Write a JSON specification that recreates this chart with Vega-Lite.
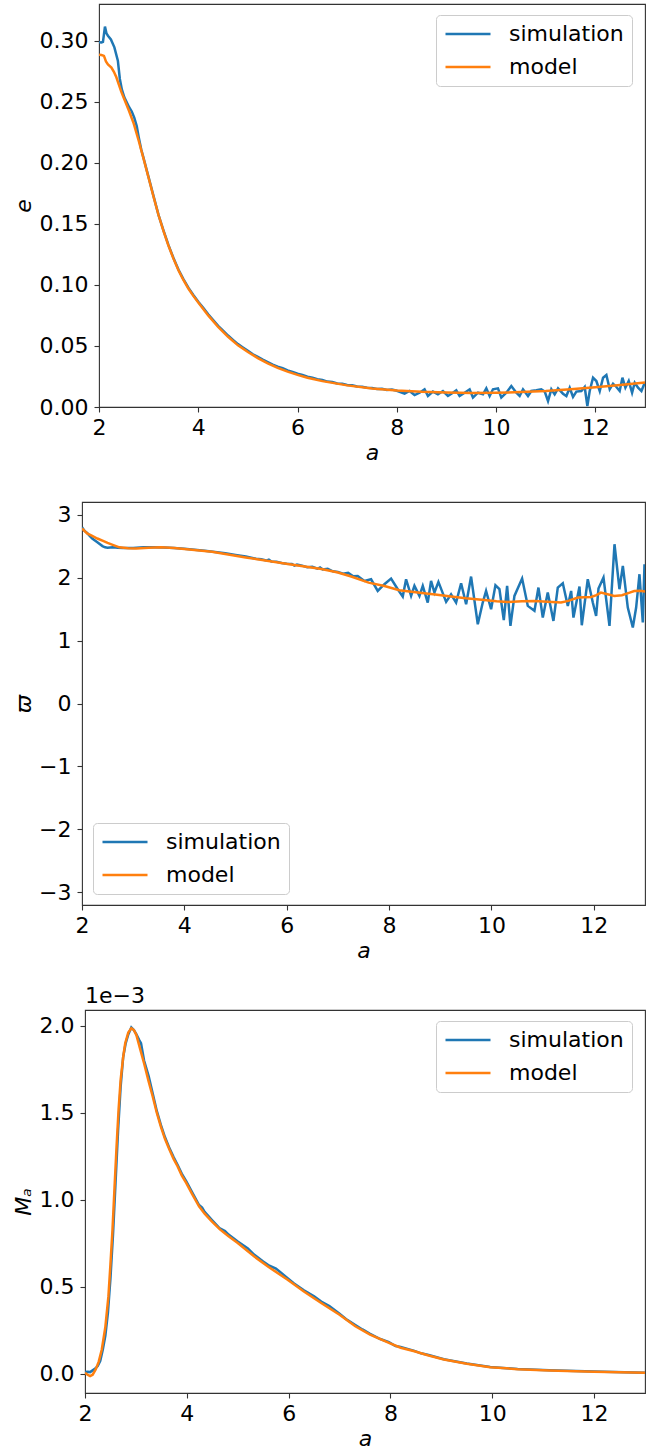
{
"$schema": "https://vega.github.io/schema/vega-lite/v6.json",
"padding": {"left": 0, "top": 3, "right": 0, "bottom": 0},
"background": "white",
"config": {
 "font": "DejaVu Sans",
 "view": {"stroke": "#333333", "strokeWidth": 1.1},
 "axis": {"grid": false, "domain": false, "tickSize": 5, "tickColor": "#333333", "tickWidth": 1.1, "labelFontSize": 22, "labelColor": "#000000", "titleFontSize": 22, "titleFontWeight": "normal", "titleFontStyle": "italic", "titleColor": "#000000", "labelFlush": false, "labelFont": "DejaVu Sans", "titleFont": "DejaVu Sans"},
 "axisX": {"labelPadding": 5, "titlePadding": 4},
 "axisY": {"labelPadding": 6, "titlePadding": 9, "titleAngle": 270, "titleBaseline": "alphabetic"},
 "legend": {"orient": "none", "symbolType": "stroke", "symbolSize": 2025, "symbolStrokeWidth": 2.5, "labelFontSize": 22, "labelFont": "DejaVu Sans", "labelColor": "#000000", "labelOffset": 17, "clipHeight": 22, "rowPadding": 11, "padding": 8, "fillColor": "rgba(255,255,255,0.8)", "strokeColor": "#cccccc", "cornerRadius": 4},
 "line": {"strokeWidth": 2.5}
},
"spacing": 22,
"resolve": {"scale": {"x": "independent", "y": "independent", "color": "independent"}, "legend": {"color": "independent"}},
"datasets": {
 "gap": [{"t": ""}],
 "ecc": [
  {"s":"simulation","a":2.00,"v":0.2986},{"s":"simulation","a":2.05,"v":0.2985},{"s":"simulation","a":2.08,"v":0.2990},{"s":"simulation","a":2.12,"v":0.3115},{"s":"simulation","a":2.15,"v":0.3060},{"s":"simulation","a":2.18,"v":0.3040},{"s":"simulation","a":2.24,"v":0.3010},{"s":"simulation","a":2.31,"v":0.2945},{"s":"simulation","a":2.38,"v":0.2836},{"s":"simulation","a":2.42,"v":0.2686},{"s":"simulation","a":2.46,"v":0.2600},{"s":"simulation","a":2.51,"v":0.2535},{"s":"simulation","a":2.61,"v":0.2453},{"s":"simulation","a":2.66,"v":0.2420},{"s":"simulation","a":2.71,"v":0.2370},{"s":"simulation","a":2.76,"v":0.2300},{"s":"simulation","a":2.80,"v":0.2210},{"s":"simulation","a":2.85,"v":0.2110},{"s":"simulation","a":2.90,"v":0.2035},{"s":"simulation","a":3.00,"v":0.1880},{"s":"simulation","a":3.10,"v":0.1725},{"s":"simulation","a":3.20,"v":0.1572},{"s":"simulation","a":3.30,"v":0.1445},{"s":"simulation","a":3.40,"v":0.1325},{"s":"simulation","a":3.50,"v":0.1220},{"s":"simulation","a":3.60,"v":0.1126},{"s":"simulation","a":3.70,"v":0.1047},{"s":"simulation","a":3.80,"v":0.0977},{"s":"simulation","a":3.90,"v":0.0917},{"s":"simulation","a":4.00,"v":0.0862},{"s":"simulation","a":4.10,"v":0.0812},{"s":"simulation","a":4.20,"v":0.0760},{"s":"simulation","a":4.30,"v":0.0712},{"s":"simulation","a":4.40,"v":0.0665},{"s":"simulation","a":4.50,"v":0.0625},{"s":"simulation","a":4.60,"v":0.0585},{"s":"simulation","a":4.70,"v":0.0550},{"s":"simulation","a":4.80,"v":0.0515},{"s":"simulation","a":4.90,"v":0.0487},{"s":"simulation","a":5.00,"v":0.0460},{"s":"simulation","a":5.10,"v":0.0432},{"s":"simulation","a":5.20,"v":0.0410},{"s":"simulation","a":5.30,"v":0.0388},{"s":"simulation","a":5.40,"v":0.0368},{"s":"simulation","a":5.50,"v":0.0347},{"s":"simulation","a":5.60,"v":0.0330},{"s":"simulation","a":5.70,"v":0.0318},{"s":"simulation","a":5.80,"v":0.0300},{"s":"simulation","a":5.90,"v":0.0288},{"s":"simulation","a":6.00,"v":0.0272},{"s":"simulation","a":6.10,"v":0.0262},{"s":"simulation","a":6.20,"v":0.0248},{"s":"simulation","a":6.30,"v":0.0240},{"s":"simulation","a":6.40,"v":0.0228},{"s":"simulation","a":6.50,"v":0.0222},{"s":"simulation","a":6.60,"v":0.0208},{"s":"simulation","a":6.70,"v":0.0205},{"s":"simulation","a":6.80,"v":0.0192},{"s":"simulation","a":6.90,"v":0.0190},{"s":"simulation","a":7.00,"v":0.0180},{"s":"simulation","a":7.10,"v":0.0178},{"s":"simulation","a":7.20,"v":0.0168},{"s":"simulation","a":7.30,"v":0.0166},{"s":"simulation","a":7.40,"v":0.0158},{"s":"simulation","a":7.50,"v":0.0156},{"s":"simulation","a":7.60,"v":0.0148},{"s":"simulation","a":7.70,"v":0.0150},{"s":"simulation","a":7.80,"v":0.0140},{"s":"simulation","a":7.90,"v":0.0143},{"s":"simulation","a":8.00,"v":0.0133},
  {"s":"simulation","a":8.156,"v":0.0109},{"s":"simulation","a":8.257,"v":0.0131},{"s":"simulation","a":8.358,"v":0.0098},{"s":"simulation","a":8.459,"v":0.0117},{"s":"simulation","a":8.559,"v":0.0145},{"s":"simulation","a":8.627,"v":0.0090},{"s":"simulation","a":8.727,"v":0.0126},{"s":"simulation","a":8.828,"v":0.0104},{"s":"simulation","a":8.929,"v":0.0131},{"s":"simulation","a":9.03,"v":0.0090},{"s":"simulation","a":9.13,"v":0.0117},{"s":"simulation","a":9.198,"v":0.0137},{"s":"simulation","a":9.265,"v":0.0090},{"s":"simulation","a":9.366,"v":0.0117},{"s":"simulation","a":9.467,"v":0.0145},{"s":"simulation","a":9.534,"v":0.0077},{"s":"simulation","a":9.635,"v":0.0117},{"s":"simulation","a":9.736,"v":0.0104},{"s":"simulation","a":9.803,"v":0.0153},{"s":"simulation","a":9.87,"v":0.0090},{"s":"simulation","a":9.937,"v":0.0145},{"s":"simulation","a":10.038,"v":0.0153},{"s":"simulation","a":10.105,"v":0.0077},{"s":"simulation","a":10.206,"v":0.0117},{"s":"simulation","a":10.307,"v":0.0172},{"s":"simulation","a":10.408,"v":0.0117},{"s":"simulation","a":10.475,"v":0.0090},{"s":"simulation","a":10.542,"v":0.0145},{"s":"simulation","a":10.643,"v":0.0090},{"s":"simulation","a":10.71,"v":0.0131},{"s":"simulation","a":10.81,"v":0.0137},{"s":"simulation","a":10.91,"v":0.0145},{"s":"simulation","a":10.98,"v":0.0126},{"s":"simulation","a":11.046,"v":0.0049},{"s":"simulation","a":11.113,"v":0.0145},{"s":"simulation","a":11.18,"v":0.0104},{"s":"simulation","a":11.248,"v":0.0153},{"s":"simulation","a":11.348,"v":0.0109},{"s":"simulation","a":11.416,"v":0.0090},{"s":"simulation","a":11.483,"v":0.0158},{"s":"simulation","a":11.55,"v":0.0082},{"s":"simulation","a":11.617,"v":0.0126},{"s":"simulation","a":11.718,"v":0.0131},{"s":"simulation","a":11.785,"v":0.0164},{"s":"simulation","a":11.839,"v":0.0008},{"s":"simulation","a":11.886,"v":0.0131},{"s":"simulation","a":11.953,"v":0.0240},{"s":"simulation","a":12.02,"v":0.0213},{"s":"simulation","a":12.088,"v":0.0131},{"s":"simulation","a":12.155,"v":0.0240},{"s":"simulation","a":12.222,"v":0.0262},{"s":"simulation","a":12.289,"v":0.0145},{"s":"simulation","a":12.356,"v":0.0191},{"s":"simulation","a":12.424,"v":0.0164},{"s":"simulation","a":12.49,"v":0.0131},{"s":"simulation","a":12.545,"v":0.0240},{"s":"simulation","a":12.605,"v":0.0158},{"s":"simulation","a":12.672,"v":0.0213},{"s":"simulation","a":12.74,"v":0.0117},{"s":"simulation","a":12.793,"v":0.0199},{"s":"simulation","a":12.86,"v":0.0158},{"s":"simulation","a":12.928,"v":0.0131},{"s":"simulation","a":12.995,"v":0.0199},
  {"s":"model","a":2.00,"v":0.2885},{"s":"model","a":2.05,"v":0.2882},{"s":"model","a":2.10,"v":0.2875},{"s":"model","a":2.14,"v":0.2830},{"s":"model","a":2.18,"v":0.2805},{"s":"model","a":2.25,"v":0.2780},{"s":"model","a":2.30,"v":0.2745},{"s":"model","a":2.35,"v":0.2700},{"s":"model","a":2.40,"v":0.2640},{"s":"model","a":2.45,"v":0.2580},{"s":"model","a":2.50,"v":0.2530},{"s":"model","a":2.60,"v":0.2430},{"s":"model","a":2.70,"v":0.2320},{"s":"model","a":2.80,"v":0.2180},{"s":"model","a":2.90,"v":0.2030},{"s":"model","a":3.00,"v":0.1875},{"s":"model","a":3.10,"v":0.1720},{"s":"model","a":3.20,"v":0.1570},{"s":"model","a":3.30,"v":0.1440},{"s":"model","a":3.40,"v":0.1320},{"s":"model","a":3.50,"v":0.1215},{"s":"model","a":3.60,"v":0.1120},{"s":"model","a":3.70,"v":0.1040},{"s":"model","a":3.80,"v":0.0970},{"s":"model","a":3.90,"v":0.0910},{"s":"model","a":4.00,"v":0.0855},{"s":"model","a":4.20,"v":0.0750},{"s":"model","a":4.40,"v":0.0655},{"s":"model","a":4.60,"v":0.0575},{"s":"model","a":4.80,"v":0.0505},{"s":"model","a":5.00,"v":0.0450},{"s":"model","a":5.20,"v":0.0400},{"s":"model","a":5.40,"v":0.0358},{"s":"model","a":5.60,"v":0.0320},{"s":"model","a":5.80,"v":0.0290},{"s":"model","a":6.00,"v":0.0263},{"s":"model","a":6.20,"v":0.0240},{"s":"model","a":6.50,"v":0.0212},{"s":"model","a":7.00,"v":0.0177},{"s":"model","a":7.50,"v":0.0152},{"s":"model","a":8.00,"v":0.0135},{"s":"model","a":8.50,"v":0.0124},{"s":"model","a":9.00,"v":0.0118},{"s":"model","a":9.50,"v":0.0114},{"s":"model","a":10.00,"v":0.0116},{"s":"model","a":10.50,"v":0.0122},{"s":"model","a":11.00,"v":0.0131},{"s":"model","a":11.50,"v":0.0145},{"s":"model","a":12.00,"v":0.0162},{"s":"model","a":12.50,"v":0.0180},{"s":"model","a":13.00,"v":0.0200}
 ],
 "peri": [
  {"s":"simulation","a":2.00,"v":2.80},{"s":"simulation","a":2.05,"v":2.74},{"s":"simulation","a":2.10,"v":2.71},{"s":"simulation","a":2.15,"v":2.66},{"s":"simulation","a":2.20,"v":2.62},{"s":"simulation","a":2.30,"v":2.56},{"s":"simulation","a":2.40,"v":2.50},{"s":"simulation","a":2.45,"v":2.48},{"s":"simulation","a":2.50,"v":2.475},{"s":"simulation","a":2.60,"v":2.48},{"s":"simulation","a":2.70,"v":2.475},{"s":"simulation","a":2.80,"v":2.47},{"s":"simulation","a":3.00,"v":2.47},{"s":"simulation","a":3.20,"v":2.48},{"s":"simulation","a":3.40,"v":2.482},{"s":"simulation","a":3.60,"v":2.478},{"s":"simulation","a":3.80,"v":2.47},{"s":"simulation","a":4.00,"v":2.457},{"s":"simulation","a":4.20,"v":2.44},{"s":"simulation","a":4.40,"v":2.425},{"s":"simulation","a":4.60,"v":2.407},{"s":"simulation","a":4.80,"v":2.385},{"s":"simulation","a":5.00,"v":2.36},{"s":"simulation","a":5.20,"v":2.335},{"s":"simulation","a":5.40,"v":2.30},{"s":"simulation","a":5.50,"v":2.29},{"s":"simulation","a":5.60,"v":2.27},{"s":"simulation","a":5.65,"v":2.285},{"s":"simulation","a":5.70,"v":2.255},{"s":"simulation","a":5.80,"v":2.25},{"s":"simulation","a":5.90,"v":2.23},{"s":"simulation","a":6.00,"v":2.22},{"s":"simulation","a":6.10,"v":2.215},{"s":"simulation","a":6.15,"v":2.19},{"s":"simulation","a":6.20,"v":2.205},{"s":"simulation","a":6.30,"v":2.19},{"s":"simulation","a":6.40,"v":2.165},{"s":"simulation","a":6.50,"v":2.17},{"s":"simulation","a":6.60,"v":2.14},{"s":"simulation","a":6.65,"v":2.16},{"s":"simulation","a":6.70,"v":2.13},{"s":"simulation","a":6.80,"v":2.14},{"s":"simulation","a":6.90,"v":2.10},{"s":"simulation","a":7.00,"v":2.09},{"s":"simulation","a":7.10,"v":2.06},{"s":"simulation","a":7.20,"v":2.075},{"s":"simulation","a":7.30,"v":2.02},
  {"s":"simulation","a":7.387,"v":2.026},{"s":"simulation","a":7.518,"v":1.947},{"s":"simulation","a":7.648,"v":1.973},{"s":"simulation","a":7.778,"v":1.788},{"s":"simulation","a":7.908,"v":1.894},{"s":"simulation","a":8.039,"v":1.984},{"s":"simulation","a":8.169,"v":1.815},{"s":"simulation","a":8.267,"v":1.698},{"s":"simulation","a":8.332,"v":1.973},{"s":"simulation","a":8.43,"v":1.709},{"s":"simulation","a":8.495,"v":1.868},{"s":"simulation","a":8.593,"v":1.709},{"s":"simulation","a":8.658,"v":1.868},{"s":"simulation","a":8.755,"v":1.603},{"s":"simulation","a":8.82,"v":1.947},{"s":"simulation","a":8.886,"v":1.762},{"s":"simulation","a":8.964,"v":1.931},{"s":"simulation","a":9.114,"v":1.614},{"s":"simulation","a":9.211,"v":1.735},{"s":"simulation","a":9.309,"v":1.603},{"s":"simulation","a":9.407,"v":1.91},{"s":"simulation","a":9.505,"v":1.577},{"s":"simulation","a":9.602,"v":2.016},{"s":"simulation","a":9.733,"v":1.259},{"s":"simulation","a":9.83,"v":1.603},{"s":"simulation","a":9.895,"v":1.788},{"s":"simulation","a":9.993,"v":1.497},{"s":"simulation","a":10.078,"v":1.878},{"s":"simulation","a":10.156,"v":1.815},{"s":"simulation","a":10.241,"v":1.323},{"s":"simulation","a":10.306,"v":1.868},{"s":"simulation","a":10.371,"v":1.233},{"s":"simulation","a":10.449,"v":1.709},{"s":"simulation","a":10.599,"v":1.984},{"s":"simulation","a":10.71,"v":1.55},{"s":"simulation","a":10.84,"v":1.471},{"s":"simulation","a":10.918,"v":1.841},{"s":"simulation","a":11.003,"v":1.365},{"s":"simulation","a":11.1,"v":1.762},{"s":"simulation","a":11.211,"v":1.312},{"s":"simulation","a":11.296,"v":1.841},{"s":"simulation","a":11.394,"v":1.91},{"s":"simulation","a":11.492,"v":1.55},{"s":"simulation","a":11.557,"v":1.788},{"s":"simulation","a":11.602,"v":1.365},{"s":"simulation","a":11.72,"v":1.857},{"s":"simulation","a":11.765,"v":1.243},{"s":"simulation","a":11.882,"v":1.973},{"s":"simulation","a":11.98,"v":1.603},{"s":"simulation","a":12.045,"v":1.392},{"s":"simulation","a":12.091,"v":1.825},{"s":"simulation","a":12.189,"v":1.999},{"s":"simulation","a":12.306,"v":1.233},{"s":"simulation","a":12.404,"v":2.529},{"s":"simulation","a":12.501,"v":1.815},{"s":"simulation","a":12.567,"v":2.185},{"s":"simulation","a":12.664,"v":1.524},{"s":"simulation","a":12.762,"v":1.206},{"s":"simulation","a":12.827,"v":1.524},{"s":"simulation","a":12.892,"v":2.053},{"s":"simulation","a":12.957,"v":1.286},{"s":"simulation","a":12.99,"v":2.212},
  {"s":"model","a":2.00,"v":2.78},{"s":"model","a":2.10,"v":2.70},{"s":"model","a":2.19,"v":2.665},{"s":"model","a":2.30,"v":2.62},{"s":"model","a":2.40,"v":2.585},{"s":"model","a":2.50,"v":2.55},{"s":"model","a":2.60,"v":2.52},{"s":"model","a":2.73,"v":2.48},{"s":"model","a":2.90,"v":2.465},{"s":"model","a":3.06,"v":2.462},{"s":"model","a":3.30,"v":2.475},{"s":"model","a":3.55,"v":2.48},{"s":"model","a":3.80,"v":2.47},{"s":"model","a":4.00,"v":2.455},{"s":"model","a":4.54,"v":2.41},{"s":"model","a":5.20,"v":2.32},{"s":"model","a":6.02,"v":2.215},{"s":"model","a":6.68,"v":2.136},{"s":"model","a":7.00,"v":2.08},{"s":"model","a":7.26,"v":2.016},{"s":"model","a":7.60,"v":1.92},{"s":"model","a":7.91,"v":1.867},{"s":"model","a":8.20,"v":1.80},{"s":"model","a":8.56,"v":1.762},{"s":"model","a":8.90,"v":1.73},{"s":"model","a":9.21,"v":1.698},{"s":"model","a":9.50,"v":1.67},{"s":"model","a":9.86,"v":1.645},{"s":"model","a":10.10,"v":1.625},{"s":"model","a":10.32,"v":1.613},{"s":"model","a":10.60,"v":1.622},{"s":"model","a":10.84,"v":1.629},{"s":"model","a":11.10,"v":1.615},{"s":"model","a":11.36,"v":1.603},{"s":"model","a":11.50,"v":1.63},{"s":"model","a":11.69,"v":1.683},{"s":"model","a":11.95,"v":1.692},{"s":"model","a":12.05,"v":1.72},{"s":"model","a":12.14,"v":1.762},{"s":"model","a":12.25,"v":1.74},{"s":"model","a":12.40,"v":1.708},{"s":"model","a":12.55,"v":1.72},{"s":"model","a":12.70,"v":1.76},{"s":"model","a":12.79,"v":1.787},{"s":"model","a":12.90,"v":1.79},{"s":"model","a":13.00,"v":1.78}
 ],
 "mass": [
  {"s":"simulation","a":2.00,"v":0.010},{"s":"simulation","a":2.05,"v":0.012},{"s":"simulation","a":2.10,"v":0.010},{"s":"simulation","a":2.15,"v":0.020},{"s":"simulation","a":2.20,"v":0.030},{"s":"simulation","a":2.25,"v":0.045},{"s":"simulation","a":2.30,"v":0.075},{"s":"simulation","a":2.35,"v":0.14},{"s":"simulation","a":2.40,"v":0.22},{"s":"simulation","a":2.45,"v":0.35},{"s":"simulation","a":2.50,"v":0.55},{"s":"simulation","a":2.55,"v":0.80},{"s":"simulation","a":2.60,"v":1.10},{"s":"simulation","a":2.65,"v":1.40},{"s":"simulation","a":2.70,"v":1.65},{"s":"simulation","a":2.75,"v":1.82},{"s":"simulation","a":2.80,"v":1.90},{"s":"simulation","a":2.85,"v":1.95},{"s":"simulation","a":2.91,"v":1.99},{"s":"simulation","a":2.96,"v":1.975},{"s":"simulation","a":3.01,"v":1.95},{"s":"simulation","a":3.06,"v":1.92},{"s":"simulation","a":3.10,"v":1.90},{"s":"simulation","a":3.16,"v":1.80},{"s":"simulation","a":3.25,"v":1.71},{"s":"simulation","a":3.33,"v":1.61},{"s":"simulation","a":3.41,"v":1.51},{"s":"simulation","a":3.49,"v":1.43},{"s":"simulation","a":3.57,"v":1.36},{"s":"simulation","a":3.66,"v":1.295},{"s":"simulation","a":3.74,"v":1.245},{"s":"simulation","a":3.82,"v":1.20},{"s":"simulation","a":3.90,"v":1.15},{"s":"simulation","a":3.99,"v":1.105},{"s":"simulation","a":4.10,"v":1.045},{"s":"simulation","a":4.24,"v":0.97},{"s":"simulation","a":4.30,"v":0.955},{"s":"simulation","a":4.35,"v":0.93},{"s":"simulation","a":4.49,"v":0.885},{"s":"simulation","a":4.65,"v":0.835},{"s":"simulation","a":4.75,"v":0.82},{"s":"simulation","a":4.82,"v":0.80},{"s":"simulation","a":5.00,"v":0.76},{"s":"simulation","a":5.20,"v":0.72},{"s":"simulation","a":5.32,"v":0.685},{"s":"simulation","a":5.50,"v":0.645},{"s":"simulation","a":5.60,"v":0.625},{"s":"simulation","a":5.75,"v":0.605},{"s":"simulation","a":5.98,"v":0.55},{"s":"simulation","a":6.10,"v":0.52},{"s":"simulation","a":6.30,"v":0.48},{"s":"simulation","a":6.50,"v":0.445},{"s":"simulation","a":6.64,"v":0.415},{"s":"simulation","a":6.80,"v":0.39},{"s":"simulation","a":7.00,"v":0.345},{"s":"simulation","a":7.15,"v":0.31},{"s":"simulation","a":7.31,"v":0.28},{"s":"simulation","a":7.45,"v":0.255},{"s":"simulation","a":7.60,"v":0.23},{"s":"simulation","a":7.80,"v":0.20},{"s":"simulation","a":7.97,"v":0.182},{"s":"simulation","a":8.10,"v":0.16},{"s":"simulation","a":8.20,"v":0.155},{"s":"simulation","a":8.47,"v":0.132},{"s":"simulation","a":8.60,"v":0.118},{"s":"simulation","a":8.75,"v":0.108},{"s":"simulation","a":9.05,"v":0.084},{"s":"simulation","a":9.50,"v":0.060},{"s":"simulation","a":9.96,"v":0.040},{"s":"simulation","a":10.50,"v":0.028},{"s":"simulation","a":11.12,"v":0.020},{"s":"simulation","a":12.00,"v":0.013},{"s":"simulation","a":13.00,"v":0.007},
  {"s":"model","a":2.00,"v":0.006},{"s":"model","a":2.05,"v":-0.005},{"s":"model","a":2.10,"v":-0.013},{"s":"model","a":2.15,"v":-0.005},{"s":"model","a":2.21,"v":0.025},{"s":"model","a":2.27,"v":0.07},{"s":"model","a":2.33,"v":0.14},{"s":"model","a":2.40,"v":0.27},{"s":"model","a":2.46,"v":0.445},{"s":"model","a":2.50,"v":0.63},{"s":"model","a":2.54,"v":0.828},{"s":"model","a":2.58,"v":1.07},{"s":"model","a":2.62,"v":1.306},{"s":"model","a":2.66,"v":1.52},{"s":"model","a":2.70,"v":1.688},{"s":"model","a":2.75,"v":1.82},{"s":"model","a":2.79,"v":1.899},{"s":"model","a":2.85,"v":1.96},{"s":"model","a":2.91,"v":1.985},{"s":"model","a":2.96,"v":1.975},{"s":"model","a":3.01,"v":1.946},{"s":"model","a":3.08,"v":1.87},{"s":"model","a":3.16,"v":1.784},{"s":"model","a":3.25,"v":1.68},{"s":"model","a":3.33,"v":1.593},{"s":"model","a":3.41,"v":1.50},{"s":"model","a":3.49,"v":1.42},{"s":"model","a":3.57,"v":1.35},{"s":"model","a":3.66,"v":1.287},{"s":"model","a":3.74,"v":1.235},{"s":"model","a":3.82,"v":1.191},{"s":"model","a":3.90,"v":1.14},{"s":"model","a":3.99,"v":1.096},{"s":"model","a":4.10,"v":1.035},{"s":"model","a":4.24,"v":0.962},{"s":"model","a":4.35,"v":0.92},{"s":"model","a":4.49,"v":0.876},{"s":"model","a":4.65,"v":0.83},{"s":"model","a":4.82,"v":0.79},{"s":"model","a":5.00,"v":0.752},{"s":"model","a":5.32,"v":0.675},{"s":"model","a":5.60,"v":0.615},{"s":"model","a":5.98,"v":0.541},{"s":"model","a":6.30,"v":0.473},{"s":"model","a":6.64,"v":0.407},{"s":"model","a":7.00,"v":0.34},{"s":"model","a":7.31,"v":0.273},{"s":"model","a":7.60,"v":0.225},{"s":"model","a":7.97,"v":0.178},{"s":"model","a":8.20,"v":0.15},{"s":"model","a":8.47,"v":0.13},{"s":"model","a":8.75,"v":0.105},{"s":"model","a":9.05,"v":0.082},{"s":"model","a":9.50,"v":0.058},{"s":"model","a":9.96,"v":0.038},{"s":"model","a":10.50,"v":0.027},{"s":"model","a":11.12,"v":0.019},{"s":"model","a":12.00,"v":0.012},{"s":"model","a":13.00,"v":0.006}
 ]
},
"vconcat": [
 {
  "spacing": 10,
  "resolve": {"scale": {"color": "independent"}, "legend": {"color": "independent"}},
  "hconcat": [
   {"width": 1, "height": 20, "view": {"stroke": null}, "data": {"name": "gap"}, "mark": {"type": "text", "fontSize": 1}, "encoding": {"text": {"field": "t", "type": "nominal"}}},
   {
    "width": 546, "height": 403,
    "data": {"name": "ecc"},
    "mark": {"type": "line", "strokeWidth": 2.5, "clip": true},
    "encoding": {
     "x": {"field": "a", "type": "quantitative", "scale": {"domain": [2, 13], "nice": false, "zero": false},
           "axis": {"title": ["a", ""], "titleLineHeight": 15, "values": [2, 4, 6, 8, 10, 12], "format": "d"}},
     "y": {"field": "v", "type": "quantitative", "scale": {"domain": [0, 0.33], "nice": false, "zero": false},
           "axis": {"title": "e", "values": [0, 0.05, 0.1, 0.15, 0.2, 0.25, 0.3], "format": ".2f", "minExtent": 60, "maxExtent": 60}},
     "color": {"field": "s", "type": "nominal", "scale": {"domain": ["simulation", "model"], "range": ["#1f77b4", "#ff7f0e"]},
               "legend": {"title": null, "legendX": 337, "legendY": 11}}
    }
   }
  ]
 },
 {
  "spacing": 10,
  "resolve": {"scale": {"color": "independent"}, "legend": {"color": "independent"}},
  "hconcat": [
   {"width": 1, "height": 20, "view": {"stroke": null}, "data": {"name": "gap"}, "mark": {"type": "text", "fontSize": 1}, "encoding": {"text": {"field": "t", "type": "nominal"}}},
   {
    "width": 563, "height": 403,
    "data": {"name": "peri"},
    "mark": {"type": "line", "strokeWidth": 2.5, "clip": true},
    "encoding": {
     "x": {"field": "a", "type": "quantitative", "scale": {"domain": [2, 13], "nice": false, "zero": false},
           "axis": {"title": "a", "values": [2, 4, 6, 8, 10, 12], "format": "d"}},
     "y": {"field": "v", "type": "quantitative", "scale": {"domain": [-3.2, 3.2], "nice": false, "zero": false},
           "axis": {"title": "ϖ", "values": [-3, -2, -1, 0, 1, 2, 3], "format": "d", "minExtent": 43, "maxExtent": 43}},
     "color": {"field": "s", "type": "nominal", "scale": {"domain": ["simulation", "model"], "range": ["#1f77b4", "#ff7f0e"]},
               "legend": {"title": null, "legendX": 11, "legendY": 321}}
    }
   }
  ]
 },
 {
  "spacing": 10,
  "resolve": {"scale": {"color": "independent"}, "legend": {"color": "independent"}},
  "hconcat": [
   {"width": 1, "height": 20, "view": {"stroke": null}, "data": {"name": "gap"}, "mark": {"type": "text", "fontSize": 1}, "encoding": {"text": {"field": "t", "type": "nominal"}}},
   {
    "width": 560, "height": 383,
    "title": {"text": "1e−3", "anchor": "start", "frame": "group", "fontSize": 22, "fontWeight": "normal", "baseline": "bottom", "offset": -20, "font": "DejaVu Sans", "color": "#000000"},
    "data": {"name": "mass"},
    "mark": {"type": "line", "strokeWidth": 2.5, "clip": true},
    "encoding": {
     "x": {"field": "a", "type": "quantitative", "scale": {"domain": [2, 13], "nice": false, "zero": false},
           "axis": {"title": "a", "values": [2, 4, 6, 8, 10, 12], "format": "d"}},
     "y": {"field": "v", "type": "quantitative", "scale": {"domain": [-0.11, 2.09], "nice": false, "zero": false},
           "axis": {"title": "Mₐ", "values": [0, 0.5, 1, 1.5, 2], "format": ".1f", "minExtent": 46, "maxExtent": 46}},
     "color": {"field": "s", "type": "nominal", "scale": {"domain": ["simulation", "model"], "range": ["#1f77b4", "#ff7f0e"]},
               "legend": {"title": null, "legendX": 351, "legendY": 11}}
    }
   }
  ]
 }
]
}
